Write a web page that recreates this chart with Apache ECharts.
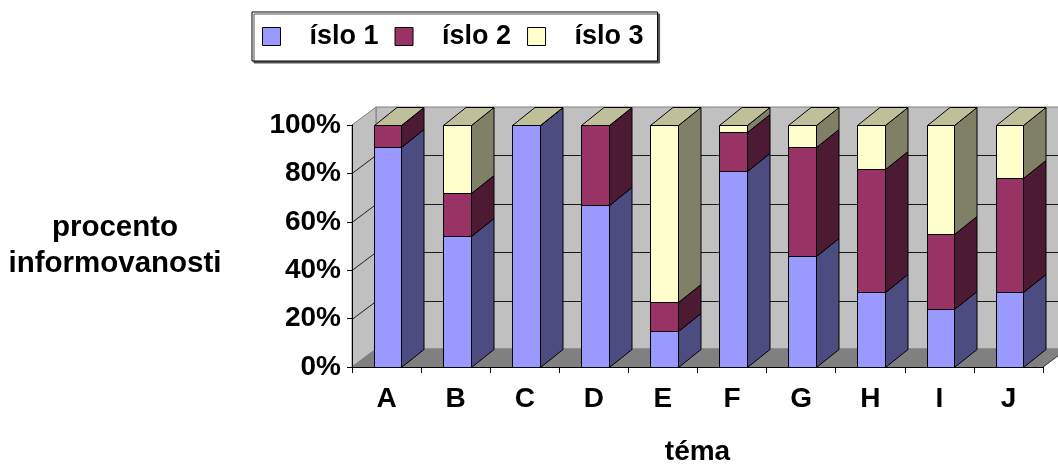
<!DOCTYPE html>
<html>
<head>
<meta charset="utf-8">
<script src="https://cdn.jsdelivr.net/npm/echarts@6/dist/echarts.min.js"></script>
<style>
  html, body { margin: 0; padding: 0; background: #fff; }
  #chart { width: 1058px; height: 465px; }
</style>
</head>
<body>
<div id="chart"></div>
<script>
// Data: share of answers per topic (percent, stacked to 100 %)
const categories = ['A', 'B', 'C', 'D', 'E', 'F', 'G', 'H', 'I', 'J'];
const seriesNames = ['íslo 1', 'íslo 2', 'íslo 3'];
const cislo1 = [91, 54, 100, 67, 15, 81, 46, 31, 24, 31];
const cislo2 = [9, 18, 0, 33, 12, 16, 45, 51, 31, 47];
const cislo3 = [0, 28, 0, 0, 73, 3, 9, 18, 45, 22];
const yTicks = [0, 20, 40, 60, 80, 100];

const seriesValues = [cislo1, cislo2, cislo3];

// Colours of the bar faces
const frontColors = ['#9999ff', '#993366', '#ffffcc'];
const sideColors = ['#4c4c80', '#4c1a33', '#808066'];
const topColors = ['#ccccff', '#cc6699', '#bfbf99'];

// 3D depth projection (pixels)
const WALL_DX = 24, WALL_DY = -18;
const BAR_DX = 22.5, BAR_DY = -18;
const FONT = '"Liberation Sans", Arial, sans-serif';

const chart = echarts.init(document.getElementById('chart'), null, { renderer: 'canvas' });

// Build stacked ranges [categoryIndex, start, end] per series
const stacked = seriesValues.map(() => []);
categories.forEach((c, i) => {
  let acc = 0;
  seriesValues.forEach((vals, s) => {
    stacked[s].push([i, acc, acc + vals[i]]);
    acc += vals[i];
  });
});

function wallsRenderer(params, api) {
  const band = api.size([1, 0])[0];
  const n = categories.length;
  const yMax = yTicks[yTicks.length - 1];
  const x0 = api.coord([0, 0])[0] - band / 2;
  const x1 = api.coord([n - 1, 0])[0] + band / 2;
  const yB = api.coord([0, 0])[1];
  const yT = api.coord([0, yMax])[1];
  const children = [];
  // back wall
  children.push({ type: 'polygon', shape: { points: [
      [x0 + WALL_DX, yT + WALL_DY], [x1 + WALL_DX, yT + WALL_DY],
      [x1 + WALL_DX, yB + WALL_DY], [x0 + WALL_DX, yB + WALL_DY]] },
    style: { fill: '#c0c0c0', stroke: '#808080', lineWidth: 1 } });
  // side wall
  children.push({ type: 'polygon', shape: { points: [
      [x0, yB], [x0, yT], [x0 + WALL_DX, yT + WALL_DY], [x0 + WALL_DX, yB + WALL_DY]] },
    style: { fill: '#c0c0c0', stroke: '#808080', lineWidth: 1 } });
  // floor
  children.push({ type: 'polygon', shape: { points: [
      [x0, yB], [x1, yB], [x1 + WALL_DX, yB + WALL_DY], [x0 + WALL_DX, yB + WALL_DY]] },
    style: { fill: '#808080', stroke: '#808080', lineWidth: 1 } });
  // grid lines on the walls
  yTicks.forEach(v => {
    if (v === 0 || v === yMax) return;
    const y = Math.round(api.coord([0, v])[1]) + 0.5;
    children.push({ type: 'polyline', shape: { points: [
        [x0, y], [x0 + WALL_DX, y + WALL_DY], [x1 + WALL_DX, y + WALL_DY]] },
      style: { fill: null, stroke: '#1a1a1a', lineWidth: 1 } });
  });
  // floor right edge
  children.push({ type: 'line', shape: { x1: x1, y1: yB, x2: x1 + WALL_DX, y2: yB + WALL_DY },
    style: { stroke: '#404040', lineWidth: 1 } });
  return { type: 'group', children };
}

function barRenderer(s) {
  const isTop = s === seriesValues.length - 1;
  return function (params, api) {
    const i = api.value(0);
    const lo = api.value(1);
    const hi = api.value(2);
    const band = api.size([1, 0])[0];
    const cLo = api.coord([i, lo]);
    const cHi = api.coord([i, hi]);
    const start = cLo[0] - band / 2;
    const xl = Math.round(start + band * 0.315) + 0.5;
    const xr = Math.round(start + band * 0.715) + 0.5;
    const yb = Math.round(cLo[1]) + 0.5;
    const yt = Math.round(cHi[1]) + 0.5;
    const line = { stroke: '#000', lineWidth: 1, lineJoin: 'round' };
    const children = [
      { type: 'polygon', shape: { points: [[xr, yb], [xr + BAR_DX, yb + BAR_DY], [xr + BAR_DX, yt + BAR_DY], [xr, yt]] },
        style: Object.assign({ fill: sideColors[s] }, line) },
      { type: 'rect', shape: { x: xl, y: yt, width: xr - xl, height: yb - yt },
        style: Object.assign({ fill: frontColors[s] }, line) }
    ];
    if (isTop) {
      children.push({ type: 'polygon', shape: { points: [[xl, yt], [xr, yt], [xr + BAR_DX, yt + BAR_DY], [xl + BAR_DX, yt + BAR_DY]] },
        style: Object.assign({ fill: topColors[s] }, line) });
    }
    return { type: 'group', children };
  };
}

const series = [{
  type: 'custom',
  name: 'walls',
  silent: true,
  clip: false,
  z: 1,
  data: [[0]],
  renderItem: wallsRenderer
}];
seriesValues.forEach((vals, s) => {
  series.push({
    type: 'custom',
    name: seriesNames[s],
    clip: false,
    z: 2,
    itemStyle: { color: frontColors[s] },
    encode: { x: 0, y: [1, 2] },
    data: stacked[s],
    renderItem: barRenderer(s)
  });
});

chart.setOption({
  animation: false,
  backgroundColor: '#ffffff',
  grid: { left: 352, right: 15, top: 125, bottom: 98, containLabel: false, outerBoundsMode: 'none' },
  legend: {
    data: seriesNames,
    left: 252, top: 12,
    itemWidth: 18, itemHeight: 18, itemGap: 16,
    padding: [11, 14, 11, 10],
    backgroundColor: '#ffffff',
    borderColor: '#000', borderWidth: 1,
    shadowColor: '#555', shadowBlur: 0, shadowOffsetX: 2, shadowOffsetY: 2,
    icon: 'rect',
    itemStyle: { borderColor: '#000', borderWidth: 1 },
    textStyle: { fontFamily: FONT, fontWeight: 'bold', fontSize: 27, color: '#000', padding: [0, 0, 0, 24] }
  },
  xAxis: {
    type: 'category',
    data: categories,
    z: 5,
    axisLine: { lineStyle: { color: '#000', width: 1 } },
    axisTick: { show: true, length: 6, lineStyle: { color: '#000' } },
    axisLabel: { fontFamily: FONT, fontWeight: 'bold', fontSize: 28, color: '#000', margin: 18 },
    name: 'téma',
    nameLocation: 'middle',
    nameGap: 71,
    nameTextStyle: { fontFamily: FONT, fontWeight: 'bold', fontSize: 28, color: '#000' },
    splitLine: { show: false }
  },
  yAxis: {
    type: 'value',
    min: yTicks[0], max: yTicks[yTicks.length - 1], interval: 20,
    z: 5,
    axisLine: { show: true, lineStyle: { color: '#000', width: 1 } },
    axisTick: { show: true, length: 5, lineStyle: { color: '#000' } },
    axisLabel: { fontFamily: FONT, fontWeight: 'bold', fontSize: 28, color: '#000', margin: 11, formatter: '{value}%' },
    splitLine: { show: false }
  },
  graphic: [{
    type: 'text',
    x: 115, y: 246,
    style: {
      text: 'procento\ninformovanosti',
      fontFamily: FONT, fontWeight: 'bold', fontSize: 29.5, lineHeight: 36,
      fill: '#000', align: 'center', verticalAlign: 'middle'
    }
  }],
  series
});
</script>
</body>
</html>
